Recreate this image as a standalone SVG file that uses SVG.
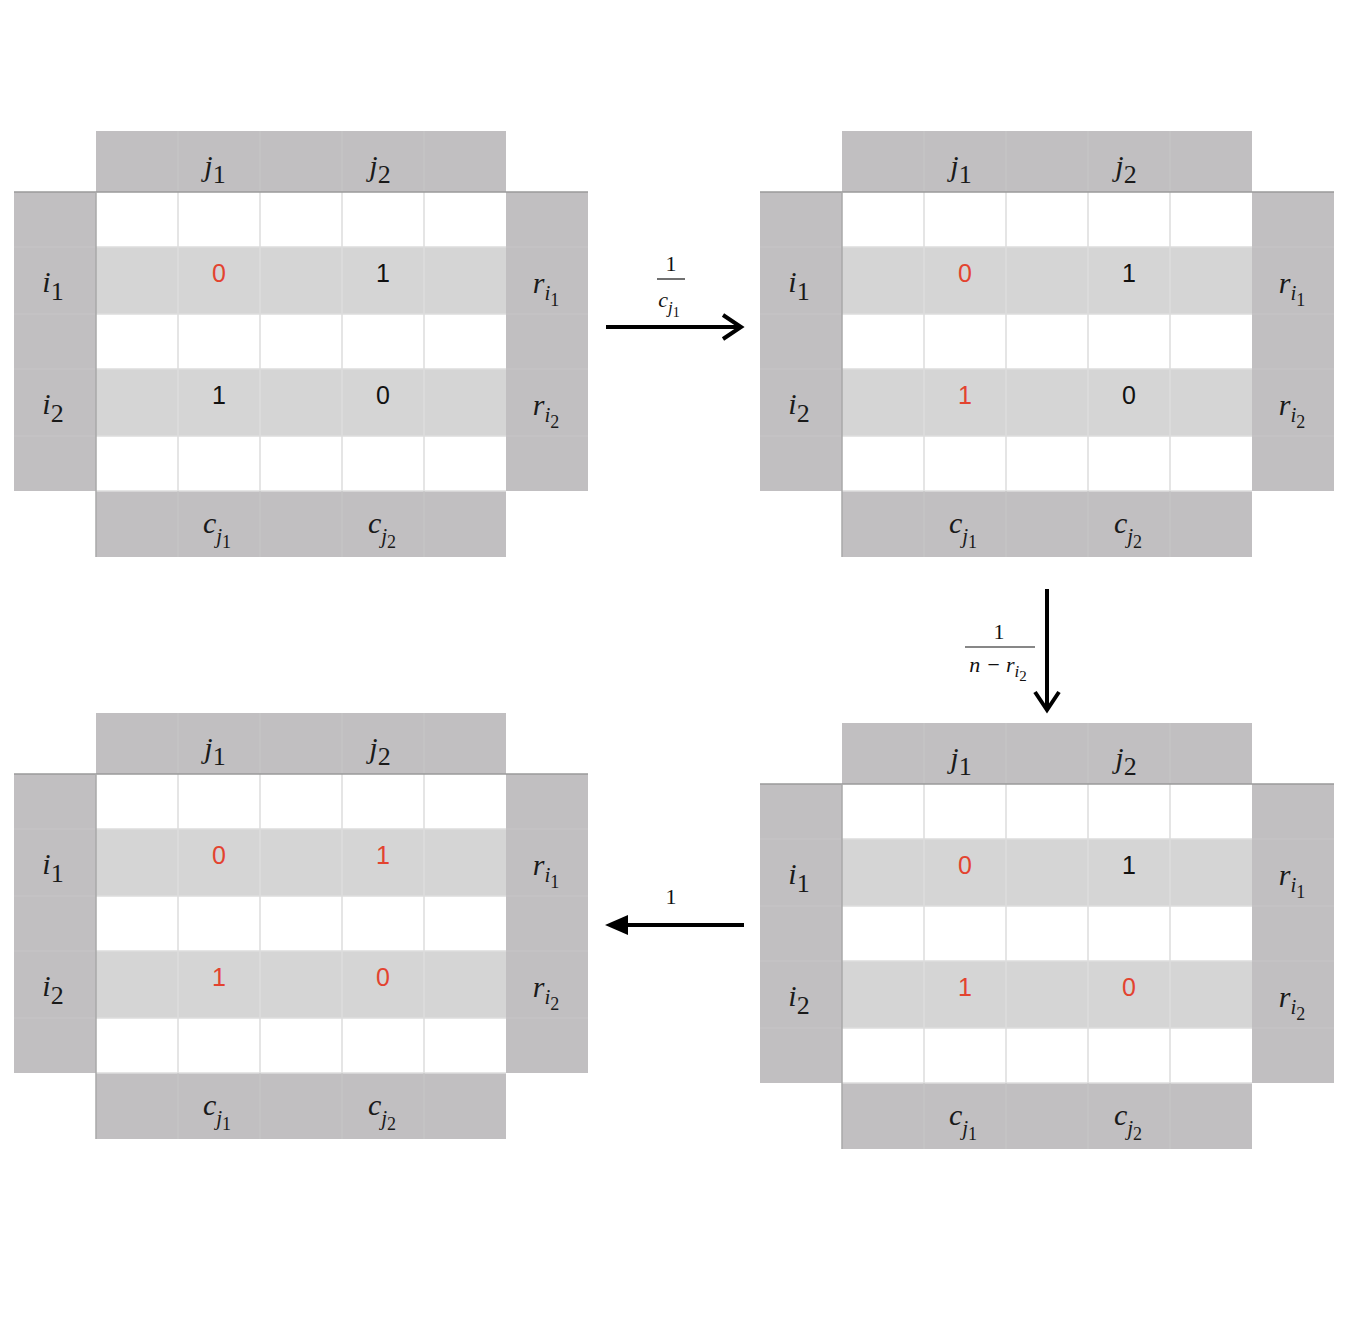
<svg xmlns="http://www.w3.org/2000/svg" xmlns:xlink="http://www.w3.org/1999/xlink" width="1346" height="1318" viewBox="0 0 1346 1318">
<style>
.hdr{fill:#c1bfc1}
.row{fill:#d5d5d5}
.gl{stroke:#dcdcdc;stroke-width:1.5}
.gh{stroke:#c7c6c7;stroke-width:1.2}
.lab{font-family:"Liberation Serif","Times New Roman",serif;font-style:italic;font-size:30px;fill:#1a1a1a;text-anchor:middle}
.d{font-style:normal}
.s1{font-size:26px}
.s2{font-size:21px}
.s3{font-size:18px}
.v{font-family:"Liberation Sans",Arial,sans-serif;font-size:25px;fill:#111;text-anchor:middle}
.red{fill:#e3432f}
.fr{font-family:"Liberation Serif","Times New Roman",serif;font-size:22px;fill:#111;text-anchor:middle}
.conn{stroke:#000;stroke-width:4;fill:none}
</style>
<defs>
<g id="skel">
<rect x="96" y="131" width="410" height="61" class="hdr"/>
<rect x="14" y="192" width="82" height="299" class="hdr"/>
<rect x="506" y="192" width="82" height="299" class="hdr"/>
<rect x="96" y="491" width="410" height="66" class="hdr"/>
<rect x="96" y="192" width="410" height="299" fill="#fff"/>
<rect x="96" y="247" width="410" height="67" class="row"/>
<rect x="96" y="369" width="410" height="67" class="row"/>
<g class="gl">
<line x1="178" y1="192" x2="178" y2="491"/><line x1="260" y1="192" x2="260" y2="491"/>
<line x1="342" y1="192" x2="342" y2="491"/><line x1="424" y1="192" x2="424" y2="491"/>
<line x1="96" y1="247" x2="506" y2="247"/><line x1="96" y1="314" x2="506" y2="314"/>
<line x1="96" y1="369" x2="506" y2="369"/><line x1="96" y1="436" x2="506" y2="436"/>
<line x1="96" y1="491" x2="506" y2="491"/>
</g>
<g class="gh">
<line x1="178" y1="131" x2="178" y2="192"/><line x1="260" y1="131" x2="260" y2="192"/>
<line x1="342" y1="131" x2="342" y2="192"/><line x1="424" y1="131" x2="424" y2="192"/>
<line x1="178" y1="491" x2="178" y2="557"/><line x1="260" y1="491" x2="260" y2="557"/>
<line x1="342" y1="491" x2="342" y2="557"/><line x1="424" y1="491" x2="424" y2="557"/>
<line x1="14" y1="247" x2="96" y2="247"/><line x1="14" y1="314" x2="96" y2="314"/>
<line x1="14" y1="369" x2="96" y2="369"/><line x1="14" y1="436" x2="96" y2="436"/>
<line x1="506" y1="247" x2="588" y2="247"/><line x1="506" y1="314" x2="588" y2="314"/>
<line x1="506" y1="369" x2="588" y2="369"/><line x1="506" y1="436" x2="588" y2="436"/>
</g>
<line x1="14" y1="192" x2="588" y2="192" stroke="#9a9a9a" stroke-width="1.5"/>
<line x1="96" y1="192" x2="96" y2="557" stroke="#a8a8a8" stroke-width="1.5"/>
</g>
</defs>
<rect width="1346" height="1318" fill="#fff"/>
<g id="grid1">
<use xlink:href="#skel"/>
<text class="lab" x="215" y="176">j<tspan class="d s1" dy="7">1</tspan></text>
<text class="lab" x="380" y="176">j<tspan class="d s1" dy="7">2</tspan></text>
<text class="lab" x="53" y="292">i<tspan class="d s1" dy="8">1</tspan></text>
<text class="lab" x="53" y="414">i<tspan class="d s1" dy="8">2</tspan></text>
<text class="lab" x="546" y="293">r<tspan class="s2" dy="7">i</tspan><tspan class="d s3" dy="6">1</tspan></text>
<text class="lab" x="546" y="415">r<tspan class="s2" dy="7">i</tspan><tspan class="d s3" dy="6">2</tspan></text>
<text class="lab" x="217" y="533">c<tspan class="s2" dy="10">j</tspan><tspan class="d s3" dy="5">1</tspan></text>
<text class="lab" x="382" y="533">c<tspan class="s2" dy="10">j</tspan><tspan class="d s3" dy="5">2</tspan></text>
<text class="v red" x="219" y="282">0</text>
<text class="v" x="383" y="282">1</text>
<text class="v" x="219" y="404">1</text>
<text class="v" x="383" y="404">0</text>
</g>
<g id="grid2" transform="translate(746,0)">
<use xlink:href="#skel"/>
<text class="lab" x="215" y="176">j<tspan class="d s1" dy="7">1</tspan></text>
<text class="lab" x="380" y="176">j<tspan class="d s1" dy="7">2</tspan></text>
<text class="lab" x="53" y="292">i<tspan class="d s1" dy="8">1</tspan></text>
<text class="lab" x="53" y="414">i<tspan class="d s1" dy="8">2</tspan></text>
<text class="lab" x="546" y="293">r<tspan class="s2" dy="7">i</tspan><tspan class="d s3" dy="6">1</tspan></text>
<text class="lab" x="546" y="415">r<tspan class="s2" dy="7">i</tspan><tspan class="d s3" dy="6">2</tspan></text>
<text class="lab" x="217" y="533">c<tspan class="s2" dy="10">j</tspan><tspan class="d s3" dy="5">1</tspan></text>
<text class="lab" x="382" y="533">c<tspan class="s2" dy="10">j</tspan><tspan class="d s3" dy="5">2</tspan></text>
<text class="v red" x="219" y="282">0</text>
<text class="v" x="383" y="282">1</text>
<text class="v red" x="219" y="404">1</text>
<text class="v" x="383" y="404">0</text>
</g>
<g id="grid3" transform="translate(746,592)">
<use xlink:href="#skel"/>
<text class="lab" x="215" y="176">j<tspan class="d s1" dy="7">1</tspan></text>
<text class="lab" x="380" y="176">j<tspan class="d s1" dy="7">2</tspan></text>
<text class="lab" x="53" y="292">i<tspan class="d s1" dy="8">1</tspan></text>
<text class="lab" x="53" y="414">i<tspan class="d s1" dy="8">2</tspan></text>
<text class="lab" x="546" y="293">r<tspan class="s2" dy="7">i</tspan><tspan class="d s3" dy="6">1</tspan></text>
<text class="lab" x="546" y="415">r<tspan class="s2" dy="7">i</tspan><tspan class="d s3" dy="6">2</tspan></text>
<text class="lab" x="217" y="533">c<tspan class="s2" dy="10">j</tspan><tspan class="d s3" dy="5">1</tspan></text>
<text class="lab" x="382" y="533">c<tspan class="s2" dy="10">j</tspan><tspan class="d s3" dy="5">2</tspan></text>
<text class="v red" x="219" y="282">0</text>
<text class="v" x="383" y="282">1</text>
<text class="v red" x="219" y="404">1</text>
<text class="v red" x="383" y="404">0</text>
</g>
<g id="grid4" transform="translate(0,582)">
<use xlink:href="#skel"/>
<text class="lab" x="215" y="176">j<tspan class="d s1" dy="7">1</tspan></text>
<text class="lab" x="380" y="176">j<tspan class="d s1" dy="7">2</tspan></text>
<text class="lab" x="53" y="292">i<tspan class="d s1" dy="8">1</tspan></text>
<text class="lab" x="53" y="414">i<tspan class="d s1" dy="8">2</tspan></text>
<text class="lab" x="546" y="293">r<tspan class="s2" dy="7">i</tspan><tspan class="d s3" dy="6">1</tspan></text>
<text class="lab" x="546" y="415">r<tspan class="s2" dy="7">i</tspan><tspan class="d s3" dy="6">2</tspan></text>
<text class="lab" x="217" y="533">c<tspan class="s2" dy="10">j</tspan><tspan class="d s3" dy="5">1</tspan></text>
<text class="lab" x="382" y="533">c<tspan class="s2" dy="10">j</tspan><tspan class="d s3" dy="5">2</tspan></text>
<text class="v red" x="219" y="282">0</text>
<text class="v red" x="383" y="282">1</text>
<text class="v red" x="219" y="404">1</text>
<text class="v red" x="383" y="404">0</text>
</g>
<g id="connectors">
<line class="conn" x1="606" y1="327" x2="740" y2="327"/>
<polyline class="conn" points="723,315 741,327 723,339"/>
<line class="conn" x1="1047" y1="589" x2="1047" y2="709"/>
<polyline class="conn" points="1035,692 1047,710 1059,692"/>
<line class="conn" x1="625" y1="925" x2="744" y2="925"/>
<polygon points="605,925 628,915 628,935" fill="#000"/>
</g>
<g id="labels">
<text class="fr" x="671" y="271">1</text>
<line x1="657" y1="279" x2="685" y2="279" stroke="#111" stroke-width="1.2"/>
<text class="fr" x="669" y="307" font-style="italic">c<tspan font-size="17" dy="6">j</tspan><tspan font-size="14" font-style="normal" dy="4">1</tspan></text>
<text class="fr" x="999" y="639">1</text>
<line x1="965" y1="647" x2="1035" y2="647" stroke="#111" stroke-width="1.2"/>
<text class="fr" x="998" y="672" font-style="italic">n − r<tspan font-size="17" dy="5">i</tspan><tspan font-size="15" font-style="normal" dy="4">2</tspan></text>
<text class="fr" x="671" y="904">1</text>
</g>
</svg>
